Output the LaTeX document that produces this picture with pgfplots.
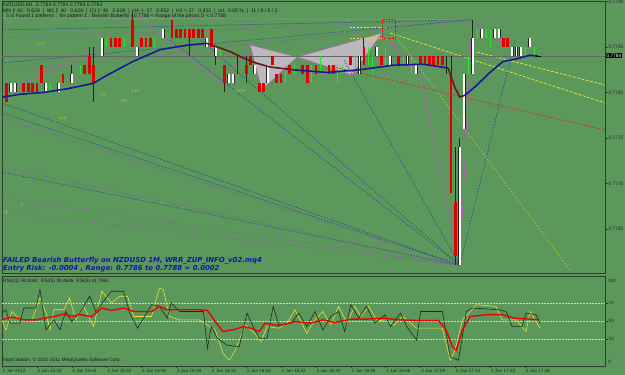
\documentclass[border=0pt]{standalone}
\usepackage{fontspec}
\setmainfont{Liberation Sans}
\newfontfamily\dejavu{DejaVu Sans}
\usepackage{pgfplots}
\usepackage{pgfplotstable}
\pgfplotsset{compat=1.18}
\definecolor{bg}{RGB}{92,152,92}
\definecolor{frame}{RGB}{45,60,45}
\definecolor{candlered}{RGB}{225,0,0}
\definecolor{wick}{RGB}{30,40,30}
\definecolor{maline}{RGB}{25,25,150}
\definecolor{maroonl}{RGB}{110,20,30}
\definecolor{fanblue}{RGB}{40,75,150}
\definecolor{fanpurple}{RGB}{150,85,170}
\definecolor{zig}{RGB}{200,80,200}
\definecolor{pattgray}{RGB}{185,185,190}
\definecolor{ylw}{RGB}{235,235,40}
\definecolor{ygreen}{RGB}{170,215,40}
\definecolor{reddash}{RGB}{210,50,30}
\definecolor{txtblue}{RGB}{20,20,175}
\definecolor{greenbar}{RGB}{40,230,40}
\definecolor{rsidark}{RGB}{30,45,30}
\definecolor{rsiylw}{RGB}{230,230,50}
\definecolor{rsired}{RGB}{240,0,0}
\definecolor{lvl}{RGB}{200,220,200}

\pgfplotsset{
  cndl/.style={only marks, mark=*, mark size=0pt, mark options={draw=none, fill=none},
    error bars/.cd, y dir=both, y explicit, error mark=none,
    error bar style={#1}},
}

% bearish candles: bar index, open, high, low, close
\pgfplotstableread{
k o h l c
1 0.7781 0.7781 0.7779 0.7779
5 0.7781 0.7781 0.7780 0.7780
6 0.7781 0.7781 0.7780 0.7780
7 0.7781 0.7781 0.7780 0.7780
8 0.7781 0.7781 0.7780 0.7780
9 0.7783 0.7783 0.7781 0.7781
14 0.7782 0.7782 0.7781 0.7781
19 0.7783 0.7783 0.7782 0.7782
20 0.7784 0.7785 0.7782 0.7782
21 0.7783 0.7785 0.7779 0.7781
25 0.7786 0.7786 0.7785 0.7785
26 0.7786 0.7786 0.7785 0.7785
27 0.7786 0.7786 0.7785 0.7785
30 0.7788 0.7789 0.7785 0.7785
32 0.7786 0.7786 0.7785 0.7785
33 0.7786 0.7786 0.7785 0.7785
34 0.7786 0.7786 0.7785 0.7785
39 0.7788 0.7788 0.7786 0.7786
40 0.7787 0.7787 0.7786 0.7786
41 0.7787 0.7787 0.7786 0.7786
42 0.7787 0.7787 0.7786 0.7786
43 0.7787 0.7787 0.7784 0.7786
44 0.7787 0.7787 0.7786 0.7786
45 0.7787 0.7787 0.7786 0.7786
46 0.7787 0.7787 0.7786 0.7786
48 0.7787 0.7787 0.7785 0.7785
51 0.7783 0.7783 0.7780 0.7781
56 0.7783 0.7784 0.7781 0.7782
57 0.7784 0.7784 0.7783 0.7783
59 0.7781 0.7781 0.7780 0.7780
60 0.7781 0.7781 0.7780 0.7780
62 0.7784 0.7784 0.7783 0.7783
63 0.7782 0.7782 0.7781 0.7781
64 0.7782 0.7782 0.7781 0.7781
66 0.7783 0.7783 0.7782 0.7782
69 0.7783 0.7783 0.7782 0.7782
70 0.7783 0.7783 0.7781 0.7781
72 0.7783 0.7783 0.7782 0.7782
75 0.7783 0.7783 0.7782 0.7782
76 0.7783 0.7783 0.7782 0.7782
80 0.7784 0.7784 0.7783 0.7783
83 0.7785 0.7786 0.7783 0.7783
87 0.7784 0.7784 0.7783 0.7783
91 0.7784 0.7784 0.7783 0.7783
96 0.7784 0.7784 0.7783 0.7783
97 0.7784 0.7784 0.7783 0.7783
98 0.7784 0.7784 0.7783 0.7783
99 0.7784 0.7784 0.7783 0.7783
100 0.7784 0.7784 0.7783 0.7783
101 0.7784 0.7784 0.7783 0.7783
103 0.7782 0.7784 0.7769 0.7769
104 0.7768 0.7774 0.7761 0.7762
115 0.7786 0.7786 0.7785 0.7785
116 0.7786 0.7786 0.7785 0.7785
}\bear

% bullish candles
\pgfplotstableread{
k o h l c
2 0.7780 0.7781 0.7780 0.7781
3 0.7780 0.7781 0.7780 0.7781
10 0.7780 0.7781 0.7780 0.7781
13 0.7780 0.7781 0.7780 0.7781
16 0.7781 0.7783 0.7781 0.7782
23 0.7784 0.7786 0.7784 0.7786
31 0.7784 0.7785 0.7784 0.7785
37 0.7786 0.7787 0.7786 0.7787
47 0.7785 0.7786 0.7785 0.7786
49 0.7784 0.7785 0.7783 0.7785
52 0.7781 0.7782 0.7781 0.7782
53 0.7781 0.7782 0.7781 0.7782
58 0.7782 0.7783 0.7782 0.7783
61 0.7781 0.7783 0.7781 0.7783
82 0.7782 0.7784 0.7782 0.7784
86 0.7784 0.7785 0.7784 0.7785
89 0.7783 0.7784 0.7783 0.7784
93 0.7783 0.7784 0.7783 0.7784
95 0.7782 0.7783 0.7782 0.7783
105 0.7761 0.7775 0.7761 0.7774
106 0.7776 0.7782 0.7776 0.7782
108 0.7782 0.7788 0.7782 0.7786
110 0.7786 0.7787 0.7786 0.7787
113 0.7786 0.7787 0.7786 0.7787
114 0.7786 0.7787 0.7786 0.7787
117 0.7784 0.7785 0.7784 0.7785
118 0.7784 0.7785 0.7784 0.7785
119 0.7784 0.7785 0.7784 0.7785
121 0.7785 0.7786 0.7785 0.7786
}\bull

% doji / green bars: index, low, high
\pgfplotstableread{
k lo hi
11 0.7780 0.7781
18 0.7782 0.7783
24 0.7785 0.7786
28 0.7785 0.7786
35 0.7785 0.7786
50 0.7784 0.7785
65 0.7781 0.7783
67 0.7782 0.7783
71 0.7781 0.7783
73 0.7782 0.7784
77 0.7781 0.7783
78 0.7782 0.7783
81 0.7782 0.7784
84 0.7783 0.7785
85 0.7782 0.7784
88 0.7783 0.7785
92 0.7783 0.7784
94 0.7782 0.7784
107 0.7782 0.7784
109 0.7786 0.7787
111 0.7786 0.7787
112 0.7785 0.7787
120 0.7784 0.7785
122 0.7784 0.7785
}\greenbars

\pgfplotstableread{
k lo hi
54 0.7782 0.7784
102 0.7782 0.7784
}\doji

% RSI series
\pgfplotstableread{
k v
0 51.3
2.3 54.3
5 51.3
7.8 51.3
9.6 53
11.9 55
14.2 57.7
16 55
17.8 57
20.6 55
22.9 64.4
25.1 61.8
27.9 64.4
30.2 60.6
34.3 60.6
36.1 66.3
37.9 62.5
40.7 62.5
45.2 62.5
47.1 61.8
48.9 49.4
50.7 38.2
53.5 40.8
55.3 43.8
57.1 42
59 38.2
60.3 47.6
63.5 44.6
67.2 49.4
70.8 47.6
73.6 51.3
76.3 48.3
80 52
83.6 52
87.3 53.2
90.9 51.3
95.5 50.6
100.1 50.6
101.9 40
103.3 21.4
104.2 17.6
105.6 40
107.4 55
111.1 57
114.7 57
117.5 53.2
121.1 52
122.9 51.3
}\rsired

\pgfplotstableread{
k v
0 58.8
0.9 62.5
1.8 47.6
4.1 47.6
5.0 64.4
7.8 64.4
8.7 85
10.1 40
11.9 51.3
13.3 40
14.6 60.6
16.0 49.4
17.8 58.8
20.1 77.5
21.5 60.6
25.1 83.1
27.9 83.1
29.3 58.8
31.1 42
34.3 68
36.1 66.3
37.9 53.2
38.8 70
40.7 60.6
46.2 60.6
47.1 19.5
48.0 43.8
49.4 30.7
51.6 23.2
54.4 21.4
56.2 58.8
57.6 43.8
59.0 30.7
60.8 30.7
62.2 66.3
63.5 45.7
66.3 47.6
68.1 58.8
69.9 43.8
71.8 60.6
73.6 40
75.4 55
77.2 60.6
78.6 38.2
80.0 68
81.8 53.2
83.6 66.3
85.5 47.6
87.8 57
89.1 43.8
91.4 58.8
92.8 43.8
95.1 28.9
96.0 60.6
101.0 60.6
102.8 10.1
104.7 6.4
106.5 60.6
107.9 64.4
113.8 62.5
115.6 60.6
117.0 43.8
119.3 43.8
120.2 58.8
122.5 57
123.4 47.6
}\rsidk

\pgfplotstableread{
k v
0 51.3
0.9 40
2.3 60.6
4.1 51.3
6.9 51.3
8.7 75.6
10.1 58.8
11.0 40
11.9 62.5
14.2 62.5
15.5 75.6
16.9 51.3
18.7 66.3
21.0 43.8
22.9 83.1
25.1 70
27.0 77.5
28.8 77.5
30.2 55
34.3 55
36.1 86.8
37.0 85
38.4 55
40.7 51.3
45.2 51.3
48.9 40
50.7 13.9
52.1 6.4
53.5 17.6
55.8 45.7
58.0 36.3
59.4 27
60.8 43.8
63.5 42
65.4 47.6
67.2 62.5
69.9 36.3
71.8 51.3
73.6 60.6
75.4 45.7
77.2 66.3
79.1 47.6
80.9 66.3
82.3 55
84.1 66.3
85.9 51.3
88.2 49.4
90.0 45.7
91.9 55
95.1 42
101.0 42
102.8 6.4
103.8 15.8
105.6 51.3
108.8 68
113.3 66.3
114.7 51.3
117.9 51.3
120.2 38.2
121.1 60.6
123.4 42
}\rsiyl

\begin{document}
\begin{tikzpicture}
\useasboundingbox (0,0) rectangle (625pt,375pt);
\fill[bg] (0,0) rectangle (625pt,375pt);

% ---------------- main price panel ----------------
\begin{axis}[
  at={(2pt,102pt)}, anchor=south west, scale only axis,
  width=603pt, height=271.5pt,
  xmin=0, xmax=138.3, ymin=0.776016, ymax=0.7790,
  axis background/.style={fill=bg},
  axis line style={frame, line width=0.8pt},
  xtick=\empty,
  ytick={0.7765,0.7770,0.7775,0.7780,0.7785,0.7790},
  yticklabels={0.7765,0.7770,0.7775,0.7780,0.7785,0.7790},
  ytick pos=right, yticklabel pos=right,
  tick align=outside, major tick length=2.5pt,
  tick style={frame, line width=0.5pt},
  yticklabel style={font=\fontsize{4.8}{5}\selectfont, text=black!85, inner sep=1pt},
]
% butterfly pattern triangles
\addplot[fill=pattgray, draw=none] coordinates {(56.9,0.778522) (59.6,0.778027) (67.7,0.778390)} -- cycle;
\addplot[fill=pattgray, draw=none] coordinates {(67.7,0.778390) (80.3,0.778192) (87.2,0.778654)} -- cycle;

% fan lines into the low
\pgfplotsset{fanb/.style={fanblue, line width=0.55pt, dash pattern=on 1.6pt off 1.4pt},
             fanp/.style={fanpurple, line width=0.55pt, dash pattern=on 1.6pt off 1.4pt}}
\addplot[fanb] coordinates {(0,0.777885) (105.0,0.77610)};
\addplot[fanb] coordinates {(0,0.777775) (105.0,0.77610)};
\addplot[fanp] coordinates {(0,0.777720) (105.0,0.77610)};
\addplot[fanp] coordinates {(0,0.777181) (105.0,0.77610)};
\addplot[fanb] coordinates {(0,0.777126) (105.0,0.77610)};
\addplot[fanp] coordinates {(0,0.776841) (105.0,0.77610)};
\addplot[fanp] coordinates {(0,0.776687) (105.0,0.77610)};
\addplot[fanb] coordinates {(38.5,0.778577) (105.0,0.77610)};
\addplot[fanb] coordinates {(45.6,0.778577) (105.0,0.77610)};
\addplot[fanb] coordinates {(78.4,0.778357) (105.0,0.77610)};
\addplot[fanb] coordinates {(105.0,0.77610) (117.7,0.778577)};
% fan lines into the high
\addplot[gray!70, line width=0.55pt, dash pattern=on 1pt off 1.5pt] coordinates {(0,0.778819) (107.8,0.77880)};
\addplot[fanb] coordinates {(0,0.778687) (107.8,0.77880)};
\addplot[fanp] coordinates {(0,0.778599) (107.8,0.77880)};
\addplot[fanb] coordinates {(0,0.778324) (107.8,0.77880)};
\addplot[fanp] coordinates {(0,0.778225) (107.8,0.77880)};
% target lines
\addplot[ygreen, line width=0.6pt, dash pattern=on 1.6pt off 2pt] coordinates {(90.1,0.778632) (130.3,0.776049)};
\addplot[ylw, line width=0.7pt, dash pattern=on 3pt off 1.5pt] coordinates {(108.9,0.778445) (138.3,0.778082)};
\addplot[ylw, line width=0.7pt, dash pattern=on 3pt off 1.5pt] coordinates {(89.0,0.778654) (138.3,0.777885)};
\addplot[reddash, line width=0.7pt, dash pattern=on 3pt off 1.5pt] coordinates {(75.2,0.778291) (138.3,0.777588)};
\addplot[ylw, line width=0.6pt, dash pattern=on 2pt off 1.5pt] coordinates {(79.8,0.77872) (88.0,0.77872)};
\addplot[ylw, line width=0.6pt, dash pattern=on 2pt off 1.5pt] coordinates {(79.8,0.77860) (88.5,0.77860)};
% zigzag
\addplot[zig, line width=0.6pt] coordinates {(0,0.777984) (21.1,0.778467) (29.8,0.778885) (50.7,0.778093) (56.9,0.778522) (59.6,0.778027) (67.7,0.778390) (80.3,0.778192) (87.2,0.778654) (95.9,0.778192) (105.0,0.77610) (107.8,0.77880) (115.8,0.778500)};
\addplot[zig, line width=0.5pt] coordinates {(56.9,0.778522) (67.7,0.778390) (87.2,0.778654)};
% bid line
\addplot[gray!80!black, line width=0.7pt] coordinates {(0,0.7784) (138.3,0.7784)};

% wicks
\addplot[cndl={wick, line width=0.8pt}]
  table[x=k, y=o, y error plus expr=\thisrow{h}-\thisrow{o}, y error minus expr=\thisrow{o}-\thisrow{l}] {\bear};
\addplot[cndl={wick, line width=0.8pt}]
  table[x=k, y=o, y error plus expr=\thisrow{h}-\thisrow{o}, y error minus expr=\thisrow{o}-\thisrow{l}] {\bull};
\addplot[cndl={wick, line width=0.8pt}]
  table[x=k, y=lo, y error plus expr=\thisrow{hi}-\thisrow{lo}, y error minus expr=0] {\doji};
\addplot[cndl={greenbar, line width=0.8pt}]
  table[x=k, y=lo, y error plus expr=\thisrow{hi}-\thisrow{lo}, y error minus expr=0] {\greenbars};
% bodies
\addplot[cndl={candlered, line width=2.7pt}]
  table[x=k, y=o, y error plus expr=0, y error minus expr=\thisrow{o}-\thisrow{c}] {\bear};
\addplot[cndl={wick, line width=3.0pt}]
  table[x=k, y=o, y error plus expr=\thisrow{c}-\thisrow{o}, y error minus expr=0] {\bull};
\addplot[cndl={white, line width=1.9pt}]
  table[x=k, y=o, y error plus expr=\thisrow{c}-\thisrow{o}, y error minus expr=0] {\bull};

% moving average
\addplot[maline, line width=1.6pt] coordinates {(0.2,0.77795) (4.1,0.77798) (9.4,0.77800) (14.9,0.77804) (20.9,0.77810) (24.1,0.77819) (30.0,0.77834) (36.2,0.77847) (42.4,0.77852) (47.0,0.77854)};
\addplot[maroonl, line width=1.6pt] coordinates {(47.0,0.77854) (52.3,0.77845) (55.3,0.77838) (58.5,0.77832) (61.5,0.77828) (66.7,0.77825)};
\addplot[maline, line width=1.6pt] coordinates {(66.7,0.77825) (74.5,0.77822) (82.1,0.77825) (89.7,0.77830) (96.6,0.77831) (102.3,0.77827)};
\addplot[maroonl, line width=1.6pt] coordinates {(102.3,0.77827) (103.9,0.77805) (105.0,0.77795) (106.2,0.77797)};
\addplot[maline, line width=1.6pt] coordinates {(106.2,0.77797) (108.9,0.77808) (111.9,0.77822) (114.9,0.77834) (118.1,0.77837) (121.1,0.77841) (122.9,0.77840)};
\addplot[black, line width=0.8pt] coordinates {(122.4,0.7784) (123.6,0.7784)};

% PRZ box
\addplot[red, line width=0.6pt, densely dotted] coordinates {(87.2,0.7786) (90.2,0.7786) (90.2,0.7788) (87.2,0.7788) (87.2,0.7786)};

% fibonacci labels
\begin{scope}[every node/.style={font=\fontsize{4}{4}\selectfont, text=ygreen, inner sep=0pt}]
\node at (axis cs:8.7,0.77853) {1.272};
\node at (axis cs:23.2,0.77797) {.707};
\node at (axis cs:30.5,0.77802) {2.24};
\node at (axis cs:27.8,0.77791) {.786};
\node at (axis cs:13.8,0.77772) {.618};
\node at (axis cs:54.6,0.77802) {2.618};
\node at (axis cs:61.5,0.77841) {.886};
\node at (axis cs:0.9,0.77668) {22};
\node at (axis cs:4.6,0.77676) {1};
\node at (axis cs:36.7,0.77678) {1};
\end{scope}
\end{axis}

% ---------------- RSI panel ----------------
\begin{axis}[
  at={(2pt,9pt)}, anchor=south west, scale only axis,
  width=603pt, height=90pt,
  xmin=0, xmax=138.3, ymin=0, ymax=100,
  axis background/.style={fill=bg},
  axis line style={frame, line width=0.8pt},
  xtick={0,8,...,120},
  xticklabels={2 Jan 2012,2 Jan 15:35,2 Jan 15:43,2 Jan 15:52,2 Jan 16:00,2 Jan 16:08,2 Jan 16:16,2 Jan 16:24,2 Jan 16:32,2 Jan 16:40,2 Jan 16:48,2 Jan 16:56,2 Jan 17:04,2 Jan 17:12,2 Jan 17:20,2 Jan 17:28},
  xtick pos=bottom,
  xticklabel style={anchor=north west, font=\fontsize{4.6}{5}\selectfont, text=black!85, inner sep=0.5pt, yshift=0.3pt},
  ytick={30,50,70}, yticklabels={30,50,70},
  ytick pos=right, yticklabel pos=right,
  tick align=outside, major tick length=2.5pt,
  tick style={frame, line width=0.5pt},
  yticklabel style={font=\fontsize{4.6}{5}\selectfont, text=black!85, inner sep=1pt},
]
\addplot[lvl, line width=0.5pt, densely dotted] coordinates {(0,70) (138.3,70)};
\addplot[lvl, line width=0.5pt, densely dotted] coordinates {(0,50) (138.3,50)};
\addplot[lvl, line width=0.5pt, densely dotted] coordinates {(0,30) (138.3,30)};
\addplot[rsiylw, line width=0.55pt] table[x=k, y=v] {\rsiyl};
\addplot[rsidark, line width=0.6pt] table[x=k, y=v] {\rsidk};
\addplot[rsired, line width=1.4pt] table[x=k, y=v] {\rsired};
\end{axis}

% ---------------- texts ----------------
\begin{scope}[every node/.style={anchor=west, inner sep=0pt, text=black!90, font=\fontsize{5.1}{5.5}\selectfont}]
\node at (3pt,369.5pt) {NZDUSD,M1\ \ 0.7784 0.7784 0.7784 0.7784};
\node at (3pt,364pt) {MN |! 40\ \ \ 0.629\ \ |\ \ W1 |! 40\ \ \ 0.629\ \ |\ \ D1 |! 40\ \ \ 0.629\ \ |\ \ H4 -|- 27\ \ \ 0.852\ \ |\ \ H1 = 27\ \ \ 0.852\ \ |\ \ m1\ \ 0.05 \%\ \ |\ \ 11 / 9 / 5 / 3};
\node at (6pt,358.5pt) {3 is Found 1 patterns ;\ \ for pattern 1 : Bearish Butterfly - 0.7786 < Range of the prices D < 0.7788};
\end{scope}
\begin{scope}[every node/.style={anchor=west, inner sep=0pt, text=black!90, font=\fontsize{4.8}{5}\selectfont}]
\node at (3pt,93.3pt) {RSI(21) 50.8461\ \ RSI(5) 39.4626\ \ RSI(5) 41.7963};
\node at (3pt,14.3pt) {Ingot Station, © 2001-2011 MetaQuotes Software Corp.};
\end{scope}
\begin{scope}[every node/.style={anchor=west, inner sep=0pt, text=txtblue, font=\dejavu\bfseries\itshape\fontsize{6.9}{7.5}\selectfont}]
\node at (3pt,114.3pt) {FAILED Bearish Butterfly on NZDUSD 1M, WRR\_ZUP\_INFO\_v02.mq4};
\node at (3pt,106.7pt) {Entry Risk: -0.0004 , Range: 0.7786 to 0.7788 = 0.0002};
\end{scope}
\node[anchor=west, inner sep=0.8pt, fill=black, text=white!85, font=\fontsize{4.8}{5}\selectfont] at (605.5pt,319pt) {0.7784};
\node[anchor=west, inner sep=0pt, text=black!85, font=\fontsize{4.6}{5}\selectfont] at (608pt,94.5pt) {100};
\node[anchor=west, inner sep=0pt, text=black!85, font=\fontsize{4.6}{5}\selectfont] at (608pt,13pt) {0};
\end{tikzpicture}
\end{document}
